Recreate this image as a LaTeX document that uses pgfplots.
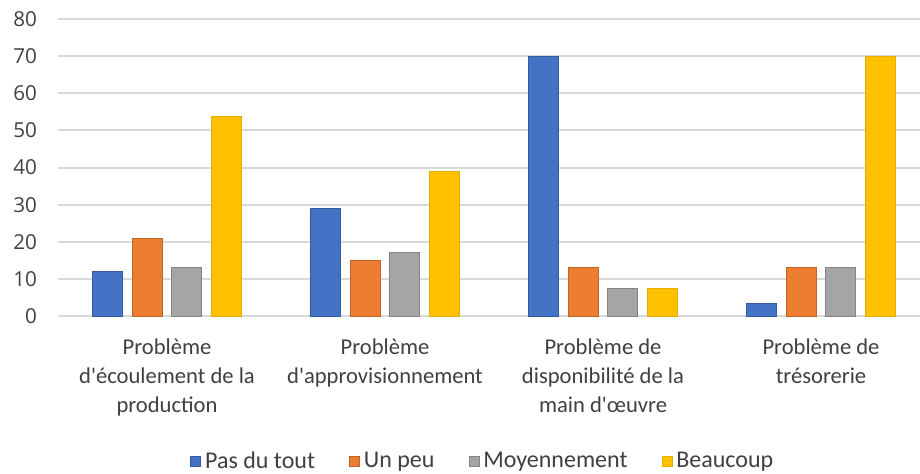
\documentclass[border=0pt]{standalone}
\usepackage{fontspec}
\setmainfont{Carlito}
\newfontfamily\tickfont{Open Sans}
\usepackage{pgfplots}
\pgfplotsset{compat=1.18}
\definecolor{cblue}{RGB}{68,114,196}
\definecolor{corange}{RGB}{237,125,49}
\definecolor{cgray}{RGB}{165,165,165}
\definecolor{cyellow}{RGB}{255,192,0}
\definecolor{gridc}{RGB}{217,217,217}
\definecolor{txt}{RGB}{64,64,64}
\begin{document}
\begin{tikzpicture}
\useasboundingbox (0,0) rectangle (460pt,236.5pt);
\begin{axis}[
    at={(29pt,78.5pt)}, anchor=south west,
    scale only axis, width=431pt, height=148.5pt,
    xmin=-0.5, xmax=3.454, ymin=0, ymax=80,
    ybar,
    ytick={0,10,...,80},
    xtick={0,1,2,3},
    xticklabels={{Problème\\d\textquotesingle écoulement de la\\production},
                 {Problème\\d\textquotesingle approvisionnement},
                 {Problème de\\disponibilité de la\\main d\textquotesingle œuvre},
                 {Problème de\\trésorerie}},
    xticklabel style={align=center, anchor=north, inner sep=0pt, yshift=-11pt,
        font=\fontsize{11.3}{14.5}\selectfont, text=txt},
    yticklabel style={font=\tickfont\fontsize{10.3}{12}\selectfont, text=txt, xshift=-7pt},
    /pgf/number format/assume math mode=true,
    major tick length=0pt,
    axis line style={draw=none},
    ymajorgrids, grid style={gridc, line width=1pt},
    legend columns=4,
    legend style={at={(0.494,-0.49)}, anchor=center, draw=none,
        font=\fontsize{12}{14}\selectfont, text=txt,
        /tikz/every even column/.append style={column sep=15pt}},
    legend image code/.code={\fill[#1] (0pt,-2.5pt) rectangle (5pt,2.5pt);},
]
\addplot[fill=cblue, draw=cblue!80!black, bar width=15pt, bar shift=-29.6pt]
    coordinates {(0,12) (1,29) (2,70) (3,3.5)};
\addplot[fill=corange, draw=corange!80!black, bar width=15pt, bar shift=-9.9pt]
    coordinates {(0,21) (1,15) (2,13) (3,13)};
\addplot[fill=cgray, draw=cgray!80!black, bar width=15pt, bar shift=9.9pt]
    coordinates {(0,13) (1,17) (2,7.5) (3,13)};
\addplot[fill=cyellow, draw=cyellow!90!black, bar width=15pt, bar shift=29.6pt]
    coordinates {(0,53.7) (1,39) (2,7.5) (3,70)};
\legend{Pas du tout, Un peu, Moyennement, Beaucoup}
\end{axis}
\end{tikzpicture}
\end{document}
